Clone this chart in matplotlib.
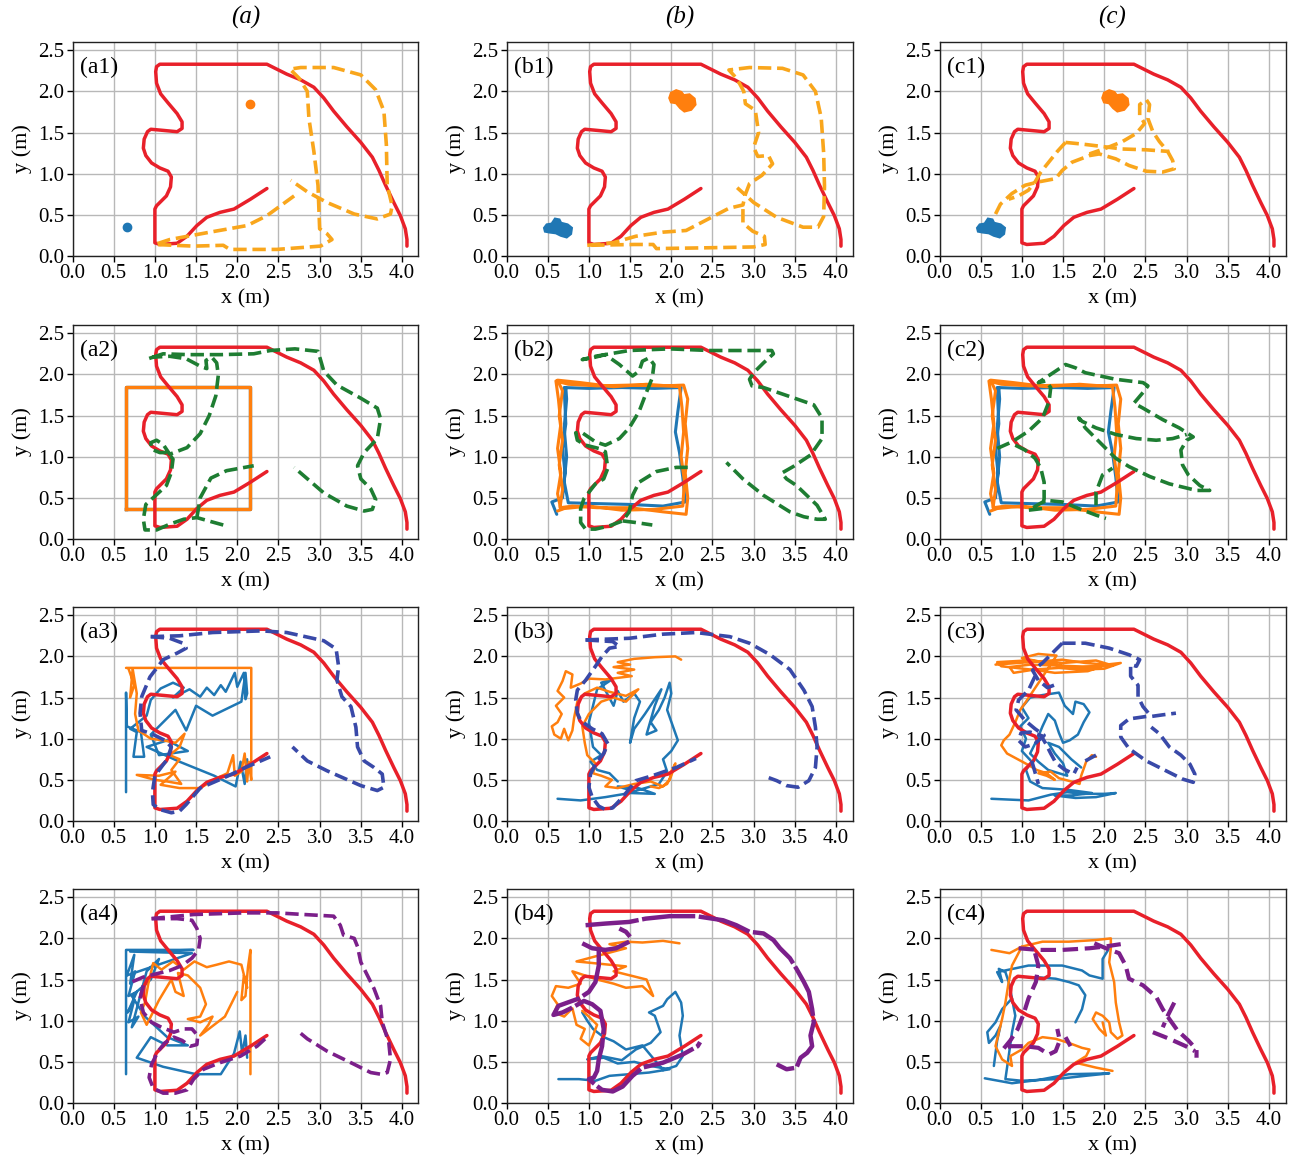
import numpy as np
import matplotlib
matplotlib.use("Agg")
import matplotlib.pyplot as plt

plt.rcParams["font.family"] = ["Liberation Serif", "DejaVu Serif"]
plt.rcParams["mathtext.fontset"] = "stix"

RED = "#e8202a"
BLUE = "#1f77b4"
ORANGE = "#ff7f0e"
GOLD = "#f9a61c"
GREEN = "#1e7d32"
NAVY = "#3949a8"
PURPLE = "#7b1f8a"

# ---------------- trajectories (x, y) in metres ----------------
red_path = [(2.36, 0.82), (2.16, 0.69), (1.96, 0.57), (1.79, 0.53), (1.63, 0.47), (1.51, 0.37),
            (1.39, 0.24), (1.27, 0.155), (1.06, 0.14), (1.0, 0.16), (1.0, 0.57), (1.02, 0.61),
            (1.14, 0.73), (1.19, 0.84), (1.2, 0.96), (1.16, 1.03), (1.06, 1.07), (0.96, 1.13),
            (0.89, 1.22), (0.86, 1.31), (0.87, 1.42), (0.91, 1.51), (0.95, 1.54), (1.06, 1.53),
            (1.27, 1.51), (1.33, 1.55), (1.33, 1.63), (1.27, 1.73), (1.16, 1.86), (1.07, 1.97),
            (1.02, 2.10), (1.01, 2.24), (1.02, 2.30), (1.06, 2.33), (2.36, 2.33), (2.60, 2.21),
            (2.77, 2.14), (2.93, 2.05), (3.05, 1.92), (3.17, 1.76), (3.33, 1.57), (3.50, 1.38),
            (3.64, 1.20), (3.72, 1.04), (3.80, 0.86), (3.90, 0.65), (3.98, 0.49), (4.04, 0.33),
            (4.06, 0.20), (4.06, 0.12)]

blue_start = (0.66, 0.35)
orange_goal = (2.16, 1.85)
blue_blob = [(0.46, 0.34), (0.49, 0.38), (0.55, 0.39), (0.59, 0.45), (0.64, 0.44), (0.66, 0.40),
             (0.74, 0.38), (0.79, 0.34), (0.78, 0.27), (0.73, 0.23), (0.66, 0.25), (0.60, 0.28),
             (0.52, 0.29), (0.47, 0.30)]
orange_blob = [(1.98, 1.92), (2.0, 1.98), (2.06, 2.01), (2.12, 1.99), (2.15, 1.95), (2.22, 1.96),
               (2.28, 1.91), (2.29, 1.84), (2.24, 1.78), (2.16, 1.76), (2.11, 1.80), (2.06, 1.86),
               (2.00, 1.87)]

gold_a1 = [[(2.69, 0.73), (2.36, 0.49), (2.12, 0.37), (1.67, 0.29), (1.18, 0.20), (1.00, 0.14),
            (1.47, 0.12), (1.83, 0.13), (1.91, 0.08), (2.48, 0.08), (3.01, 0.12), (3.15, 0.20),
            (3.09, 0.27), (3.00, 0.33), (2.98, 0.86), (2.93, 1.27), (2.87, 1.67), (2.85, 2.0),
            (2.75, 2.16), (2.64, 2.27), (2.77, 2.29), (3.17, 2.29), (3.50, 2.20), (3.68, 2.02),
            (3.78, 1.76), (3.81, 1.35), (3.82, 0.86), (3.88, 0.61), (3.86, 0.51), (3.70, 0.45),
            (3.42, 0.51), (3.09, 0.65), (2.85, 0.78), (2.65, 0.92)]]
gold_b1 = [[(0.98, 0.13), (1.29, 0.16), (1.57, 0.24), (1.90, 0.29), (2.18, 0.31), (2.45, 0.45),
            (2.70, 0.58), (2.87, 0.62), (2.90, 0.75), (2.95, 0.88), (3.10, 0.98), (3.23, 1.12),
            (3.18, 1.22), (3.05, 1.21), (3.00, 1.32), (3.06, 1.50), (3.02, 1.77), (2.90, 1.85),
            (2.88, 2.0), (2.80, 2.15), (2.70, 2.26), (2.95, 2.29), (3.35, 2.28), (3.60, 2.20),
            (3.75, 2.0), (3.82, 1.68), (3.85, 1.25), (3.86, 0.85), (3.85, 0.48), (3.78, 0.35),
            (3.60, 0.35), (3.28, 0.47), (3.00, 0.65), (2.80, 0.83)],
           [(2.87, 0.57), (2.87, 0.40), (2.99, 0.30), (3.13, 0.24), (3.14, 0.14), (3.0, 0.11),
            (2.45, 0.10), (1.82, 0.09), (1.78, 0.14), (1.55, 0.14), (1.0, 0.13)]]
gold_c1 = [[(0.68, 0.51), (0.74, 0.63), (0.88, 0.76), (1.04, 0.86), (1.20, 0.90), (1.41, 0.94),
            (1.49, 1.04), (1.61, 1.14), (1.82, 1.22), (1.94, 1.24), (2.14, 1.18), (2.30, 1.10),
            (2.51, 1.03), (2.71, 1.02), (2.85, 1.06), (2.83, 1.16), (2.77, 1.27), (2.67, 1.39),
            (2.59, 1.51), (2.53, 1.67), (2.55, 1.84), (2.51, 1.90), (2.43, 1.84), (2.43, 1.71),
            (2.49, 1.61), (2.39, 1.49), (2.22, 1.39), (2.02, 1.31), (1.82, 1.24)],
           [(1.53, 1.38), (1.73, 1.36), (1.98, 1.33), (2.22, 1.30), (2.51, 1.29), (2.79, 1.27)],
           [(1.53, 1.38), (1.43, 1.27), (1.31, 1.12), (1.23, 1.02), (1.16, 0.90), (1.08, 0.80),
            (0.96, 0.73), (0.84, 0.69)]]

square_x = [0.65, 2.15, 2.15, 0.65, 0.65]
square_y = [0.36, 0.36, 1.85, 1.85, 0.36]

orange_sq = [(0.66, 0.36), (0.62, 0.55), (0.66, 0.8), (0.62, 1.1), (0.66, 1.4), (0.63, 1.7),
             (0.60, 1.92), (0.75, 1.88), (1.1, 1.86), (1.5, 1.87), (1.9, 1.86), (2.15, 1.87),
             (2.20, 1.7), (2.17, 1.4), (2.20, 1.1), (2.17, 0.8), (2.20, 0.5), (2.18, 0.30),
             (1.9, 0.33), (1.5, 0.38), (1.1, 0.38), (0.8, 0.40), (0.65, 0.38), (0.68, 0.6),
             (0.64, 0.9), (0.68, 1.2), (0.64, 1.5), (0.68, 1.80), (0.62, 1.93), (0.9, 1.90),
             (1.3, 1.85), (1.7, 1.88), (2.1, 1.85), (2.13, 1.6), (2.15, 1.3), (2.12, 1.0),
             (2.16, 0.7), (2.14, 0.40), (1.8, 0.36), (1.4, 0.35), (1.0, 0.40), (0.7, 0.37),
             (0.62, 0.34)]
blue_sq = [(0.61, 0.30), (0.55, 0.45), (0.68, 0.50), (0.71, 0.8), (0.68, 1.1), (0.72, 1.4),
           (0.70, 1.84), (1.0, 1.83), (1.4, 1.84), (1.8, 1.83), (2.12, 1.84), (2.08, 1.55),
           (2.05, 1.30), (2.10, 1.05), (2.14, 0.75), (2.17, 0.45), (1.9, 0.40), (1.5, 0.42),
           (1.1, 0.43), (0.75, 0.44), (0.70, 0.70), (0.73, 1.0), (0.70, 1.35), (0.73, 1.70),
           (0.72, 1.84)]

green_a2 = [[(1.83, 0.17), (1.65, 0.22), (1.51, 0.26), (1.35, 0.24), (1.18, 0.18), (1.02, 0.11),
             (0.88, 0.11), (0.86, 0.24), (0.89, 0.42), (1.0, 0.52), (1.14, 0.65), (1.2, 0.81),
             (1.22, 0.97), (1.16, 1.05), (1.06, 1.05), (0.96, 1.09), (0.95, 1.17), (1.02, 1.20),
             (1.10, 1.15), (1.18, 1.03), (1.39, 1.11), (1.55, 1.28), (1.66, 1.50), (1.74, 1.74),
             (1.77, 1.99), (1.75, 2.14), (1.69, 2.21), (1.62, 2.17), (1.63, 2.07), (1.55, 2.10),
             (1.38, 2.19), (1.18, 2.22), (0.98, 2.21), (0.92, 2.19), (1.10, 2.25), (1.40, 2.24),
             (1.80, 2.24), (2.20, 2.25), (2.40, 2.29), (2.70, 2.31), (2.98, 2.28), (3.01, 2.18),
             (3.05, 2.04), (3.21, 1.87), (3.50, 1.71), (3.70, 1.59), (3.74, 1.46), (3.70, 1.22),
             (3.54, 1.05), (3.46, 0.89), (3.50, 0.73), (3.62, 0.61), (3.68, 0.48), (3.64, 0.36),
             (3.54, 0.34), (3.33, 0.40), (3.05, 0.56), (2.69, 0.87)],
            [(1.51, 0.26), (1.55, 0.50), (1.68, 0.74), (1.87, 0.83), (2.20, 0.89)]]
green_b2 = [[(2.20, 0.87), (2.06, 0.87), (1.82, 0.82), (1.61, 0.69), (1.53, 0.53), (1.49, 0.33),
             (1.41, 0.22), (1.25, 0.16), (1.08, 0.12), (0.96, 0.12), (0.90, 0.20), (0.90, 0.37),
             (0.94, 0.49), (1.08, 0.67), (1.18, 0.73), (1.23, 0.86), (1.20, 1.06), (1.12, 1.10),
             (0.96, 1.14), (0.86, 1.20), (0.84, 1.29), (0.92, 1.29), (1.08, 1.18), (1.20, 1.14),
             (1.37, 1.22), (1.49, 1.35), (1.61, 1.55), (1.69, 1.76), (1.77, 1.96), (1.79, 2.12),
             (1.73, 2.20), (1.65, 2.16), (1.61, 2.04), (1.53, 1.98), (1.37, 2.12), (1.20, 2.24),
             (1.04, 2.20), (0.92, 2.18), (1.08, 2.22), (1.49, 2.29), (1.98, 2.31), (2.47, 2.29),
             (2.71, 2.29), (3.22, 2.29), (3.24, 2.25), (3.12, 2.14), (3.00, 2.02), (2.95, 1.94),
             (2.98, 1.86), (3.12, 1.84), (3.44, 1.73), (3.73, 1.63), (3.83, 1.47), (3.83, 1.22),
             (3.69, 1.02), (3.48, 0.88), (3.34, 0.80), (3.40, 0.73), (3.52, 0.65), (3.77, 0.41),
             (3.87, 0.24), (3.77, 0.24), (3.61, 0.27), (3.44, 0.33), (3.12, 0.53), (2.87, 0.73),
             (2.67, 0.93)],
            [(1.41, 0.22), (1.57, 0.20), (1.77, 0.17)]]
green_c2 = [[(0.70, 1.10), (0.88, 1.18), (1.08, 1.31), (1.25, 1.47), (1.33, 1.67), (1.35, 1.84),
             (1.29, 1.92), (1.20, 1.90), (1.41, 2.04), (1.53, 2.12), (1.65, 2.08), (1.77, 2.02),
             (2.14, 1.94), (2.47, 1.90), (2.53, 1.86), (2.47, 1.78), (2.36, 1.65), (2.47, 1.59),
             (2.71, 1.45), (2.91, 1.35), (3.08, 1.24), (3.00, 1.20), (2.93, 1.08), (2.95, 0.90),
             (3.02, 0.78), (3.16, 0.65), (3.28, 0.59), (3.12, 0.59), (2.79, 0.67), (2.55, 0.76),
             (2.30, 0.88), (2.14, 0.98), (1.98, 1.14), (1.77, 1.35), (1.69, 1.47), (1.73, 1.43),
             (1.90, 1.35), (2.14, 1.27), (2.39, 1.22), (2.63, 1.20), (2.83, 1.22), (3.00, 1.27)],
            [(0.92, 1.14), (1.04, 1.08), (1.16, 0.98), (1.23, 0.86), (1.27, 0.69), (1.27, 0.49),
             (1.25, 0.37), (1.08, 0.35), (1.29, 0.47), (1.49, 0.45), (1.69, 0.37), (1.90, 0.29),
             (2.02, 0.25)],
            [(1.90, 0.41), (1.90, 0.57), (1.98, 0.78), (2.10, 0.86)]]

orange_a3 = [(0.65, 1.86), (2.17, 1.86), (2.17, 0.50), (2.14, 0.72), (2.12, 0.48), (2.09, 0.82),
             (2.05, 0.60), (1.97, 0.55), (1.95, 0.80), (1.88, 0.58), (1.75, 0.52), (1.55, 0.40),
             (1.30, 0.40), (1.07, 0.44), (1.25, 0.60), (1.05, 0.55), (0.78, 0.56), (1.00, 0.50),
             (1.15, 0.48), (1.32, 0.45), (1.20, 0.62), (1.30, 0.75), (1.18, 0.80), (1.30, 0.90),
             (1.36, 1.06), (1.25, 0.95), (1.10, 0.98), (0.95, 1.00), (0.80, 1.10), (0.76, 1.30),
             (0.78, 1.55), (0.73, 1.85), (0.70, 1.50), (0.75, 1.65), (0.68, 1.85)]
blue_a3 = [(0.65, 0.35), (0.65, 1.56), (0.66, 1.15), (0.83, 1.08), (0.87, 0.78), (0.74, 0.78),
           (0.78, 1.08), (0.70, 1.12), (0.90, 1.28), (0.95, 1.47), (1.07, 1.61), (1.22, 1.68),
           (1.35, 1.62), (1.22, 1.50), (1.42, 1.60), (1.55, 1.51), (1.63, 1.62), (1.72, 1.53),
           (1.80, 1.65), (1.86, 1.57), (1.97, 1.80), (2.0, 1.63), (2.08, 1.80), (2.10, 1.48),
           (2.12, 1.55), (2.10, 1.80), (2.05, 1.45), (1.70, 1.28), (1.50, 1.40), (1.38, 1.10),
           (1.25, 1.35), (1.10, 1.20), (0.95, 1.05), (1.05, 0.80), (1.40, 0.85), (1.15, 0.98),
           (0.90, 0.90), (1.30, 0.72), (1.72, 0.55), (1.98, 0.42), (2.04, 0.72), (2.09, 0.45),
           (2.12, 0.75)]
navy_a3 = [[(0.95, 2.24), (1.18, 2.22), (1.34, 2.16), (1.38, 2.10), (1.27, 2.04), (1.10, 1.96),
            (0.94, 1.75), (0.84, 1.51), (0.82, 1.31), (0.84, 1.10), (0.96, 1.06), (1.12, 0.98),
            (1.2, 0.9), (1.15, 0.75), (1.0, 0.55), (0.97, 0.35), (0.98, 0.2), (1.06, 0.14),
            (1.2, 0.10), (1.3, 0.12), (1.38, 0.2), (1.55, 0.4), (1.85, 0.53), (2.1, 0.65),
            (2.4, 0.78)],
           [(0.95, 2.24), (1.3, 2.25), (1.7, 2.29), (2.3, 2.31), (2.6, 2.29), (3.05, 2.19),
            (3.2, 2.09), (3.23, 1.88), (3.21, 1.71), (3.27, 1.51), (3.38, 1.39), (3.44, 1.14),
            (3.46, 0.90), (3.54, 0.73), (3.66, 0.65), (3.76, 0.57), (3.78, 0.41), (3.70, 0.37),
            (3.5, 0.43), (3.09, 0.61), (2.85, 0.73), (2.67, 0.90)]]

orange_b3 = [(2.12, 1.96), (2.05, 2.0), (1.8, 1.99), (1.55, 1.97), (1.35, 1.93), (1.5, 1.90),
             (1.3, 1.87), (1.55, 1.84), (1.35, 1.80), (1.52, 1.76), (1.2, 1.72), (1.0, 1.73),
             (0.9, 1.67), (0.78, 1.62), (0.80, 1.78), (0.72, 1.82), (0.68, 1.70), (0.62, 1.58),
             (0.70, 1.50), (0.60, 1.40), (0.67, 1.30), (0.62, 1.20), (0.55, 1.15), (0.58, 1.05),
             (0.66, 1.00), (0.70, 1.12), (0.75, 0.98), (0.80, 1.10), (0.82, 1.25), (0.86, 1.45),
             (0.95, 1.55), (1.1, 1.62), (1.25, 1.57), (1.45, 1.52), (1.6, 1.60), (1.45, 1.45),
             (1.3, 1.50), (1.15, 1.45), (1.0, 1.30), (0.92, 1.15), (0.95, 0.95), (0.98, 0.80),
             (1.08, 0.70), (1.05, 0.58), (1.15, 0.55), (1.28, 0.50), (1.20, 0.42), (1.35, 0.40),
             (1.55, 0.45), (1.75, 0.48), (1.9, 0.42), (1.98, 0.50), (2.0, 0.60), (2.05, 0.70),
             (2.0, 0.55), (1.95, 0.45), (1.85, 0.40), (1.75, 0.42)]
blue_b3 = [(0.62, 0.27), (0.9, 0.25), (1.2, 0.29), (1.5, 0.34), (1.8, 0.33), (1.6, 0.40),
           (1.35, 0.42), (1.55, 0.36), (1.85, 0.45), (1.95, 0.60), (1.90, 0.75), (2.00, 0.85),
           (2.08, 0.98), (2.02, 1.15), (1.95, 1.35), (2.0, 1.55), (1.98, 1.68), (1.92, 1.50),
           (1.85, 1.35), (1.75, 1.20), (1.82, 1.10), (1.70, 1.05), (1.80, 1.40), (1.88, 1.60),
           (1.78, 1.45), (1.68, 1.30), (1.55, 1.12), (1.50, 0.95), (1.55, 1.25), (1.62, 1.45),
           (1.55, 1.55), (1.42, 1.45), (1.35, 1.58), (1.30, 1.40), (1.22, 1.55), (1.15, 1.68),
           (1.28, 1.72), (1.1, 1.60), (1.05, 1.40), (1.0, 1.20), (1.05, 0.90), (1.15, 0.80),
           (1.02, 0.72), (1.10, 0.62), (1.25, 0.58), (1.35, 0.48)]
navy_b3 = [[(0.96, 2.20), (1.29, 2.18), (1.37, 2.12), (1.25, 2.10), (1.16, 2.00), (1.08, 1.88),
            (0.96, 1.71), (0.86, 1.59), (0.84, 1.47), (0.86, 1.31), (0.90, 1.22), (1.04, 1.12),
            (1.16, 1.06), (1.23, 0.94), (1.18, 0.82), (1.08, 0.69), (1.02, 0.57), (1.00, 0.41),
            (1.04, 0.29), (1.12, 0.18), (1.20, 0.14), (1.29, 0.16), (1.41, 0.29), (1.57, 0.49),
            (1.77, 0.55), (2.06, 0.65), (2.30, 0.76)],
           [(0.96, 2.20), (1.49, 2.22), (1.90, 2.27), (2.30, 2.29), (2.71, 2.24), (2.95, 2.16),
            (3.20, 2.02), (3.44, 1.84), (3.61, 1.59), (3.71, 1.39), (3.75, 1.14), (3.77, 0.90),
            (3.75, 0.65), (3.67, 0.49), (3.54, 0.41), (3.40, 0.43), (3.28, 0.49), (3.12, 0.55)]]

orange_c3 = [(0.68, 1.90), (0.95, 1.92), (1.22, 1.94), (1.49, 1.96), (1.77, 1.92), (2.02, 1.90),
             (2.20, 1.92), (2.0, 1.85), (1.70, 1.84), (1.45, 1.86), (1.15, 1.84), (0.90, 1.80),
             (0.85, 1.87), (1.10, 1.90), (1.40, 1.89), (1.65, 1.88), (1.95, 1.87), (1.80, 1.82),
             (1.40, 1.80), (1.20, 1.83), (0.75, 1.88), (0.70, 1.93), (1.05, 1.95), (1.50, 1.92),
             (1.90, 1.95), (2.10, 1.89), (1.60, 1.86), (1.0, 1.98), (1.2, 2.03), (1.42, 2.01),
             (1.25, 1.75), (1.15, 1.60), (1.05, 1.45), (0.98, 1.35), (0.92, 1.20), (0.85, 1.05),
             (0.78, 0.98), (0.75, 0.92), (0.82, 0.82), (0.95, 0.75), (1.08, 0.68), (1.18, 0.62),
             (1.30, 0.58), (1.40, 0.50), (1.30, 0.55), (1.20, 0.58), (1.35, 0.60), (1.45, 0.52),
             (1.60, 0.48), (1.70, 0.45), (1.72, 0.55), (1.78, 0.72), (1.85, 0.80), (1.90, 0.78)]
blue_c3 = [(0.63, 0.27), (0.85, 0.26), (1.08, 0.25), (1.35, 0.32), (1.55, 0.35), (1.75, 0.33),
           (2.0, 0.33), (2.14, 0.34), (1.90, 0.29), (1.65, 0.28), (1.40, 0.31), (1.60, 0.31),
           (1.85, 0.34), (1.55, 0.38), (1.25, 0.40), (1.10, 0.48), (1.05, 0.62), (1.12, 0.72),
           (1.00, 0.85), (1.05, 1.00), (0.98, 1.15), (1.08, 1.25), (1.00, 1.38), (1.10, 1.50),
           (1.25, 1.53), (1.45, 1.56), (1.52, 1.40), (1.62, 1.30), (1.65, 1.45), (1.75, 1.42),
           (1.82, 1.32), (1.75, 1.20), (1.68, 1.05), (1.58, 0.98), (1.50, 0.95), (1.45, 1.07),
           (1.40, 1.22), (1.32, 1.30), (1.25, 1.15), (1.18, 0.98), (1.10, 0.82), (1.20, 0.72),
           (1.32, 0.62), (1.45, 0.58), (1.55, 0.55), (1.50, 0.70), (1.40, 0.82), (1.32, 0.95),
           (1.45, 0.90), (1.60, 0.75), (1.72, 0.65)]
navy_c3 = [[(1.49, 2.16), (1.77, 2.16), (2.06, 2.10), (2.30, 2.02), (2.43, 1.96), (2.39, 1.88),
            (2.32, 1.90), (2.32, 1.76), (2.41, 1.65), (2.41, 1.51), (2.47, 1.39), (2.57, 1.27),
            (2.71, 1.29), (2.87, 1.31)],
           [(2.51, 1.27), (2.30, 1.24), (2.20, 1.16), (2.20, 1.02), (2.30, 0.88), (2.51, 0.73),
            (2.71, 0.63), (2.95, 0.51), (3.08, 0.47), (3.10, 0.57), (3.04, 0.69), (2.93, 0.80),
            (2.79, 0.90), (2.67, 1.06), (2.57, 1.14)],
           [(1.49, 2.16), (1.37, 2.04), (1.25, 1.92), (1.13, 1.83), (1.20, 1.71), (1.31, 1.62),
            (1.39, 1.65)],
           [(1.16, 1.76), (1.08, 1.59), (0.96, 1.47), (0.93, 1.35), (1.04, 1.22), (1.16, 1.12),
            (1.27, 1.04), (1.16, 0.94), (1.04, 0.90), (0.96, 0.98), (0.99, 1.07), (1.10, 1.08),
            (1.23, 1.04), (1.29, 0.94), (1.35, 0.82), (1.41, 0.71), (1.51, 0.63), (1.63, 0.57),
            (1.67, 0.65)],
           [(1.12, 0.73), (1.16, 0.59), (1.20, 0.45)],
           [(1.77, 0.73), (1.90, 0.80)]]

blue_a4 = [(0.65, 0.35), (0.65, 1.86), (1.47, 1.86), (0.70, 1.84), (1.45, 1.82), (0.66, 1.55),
           (0.75, 1.80), (0.70, 1.45), (0.76, 1.60), (0.68, 1.30), (0.78, 1.35), (0.67, 1.10),
           (0.75, 1.25), (0.68, 0.98), (0.80, 1.05), (0.72, 0.92), (0.90, 1.60), (1.05, 1.75),
           (0.95, 1.50), (0.72, 1.30), (0.88, 1.05), (1.15, 0.80), (1.40, 0.70), (1.15, 0.70),
           (0.95, 0.80), (0.78, 0.55), (1.10, 0.44), (1.50, 0.35), (1.80, 0.35), (1.96, 0.60),
           (2.03, 0.87), (2.06, 0.60), (2.10, 0.82), (2.12, 0.55)]
orange_a4 = [(2.16, 0.35), (2.16, 1.86), (2.13, 1.65), (2.10, 1.30), (2.05, 1.25), (2.08, 1.55),
             (2.12, 1.40), (2.05, 1.68), (1.90, 1.72), (1.75, 1.68), (1.63, 1.65), (1.48, 1.72),
             (1.35, 1.62), (1.22, 1.72), (1.08, 1.62), (0.98, 1.70), (0.92, 1.45), (0.88, 1.22),
             (0.83, 1.10), (0.90, 0.95), (0.95, 1.05), (1.05, 1.25), (1.20, 1.50), (1.25, 1.35),
             (1.35, 1.30), (1.28, 1.58), (1.40, 1.55), (1.55, 1.40), (1.62, 1.20), (1.55, 1.05),
             (1.40, 1.02), (1.55, 0.98), (1.70, 1.05), (1.65, 0.95), (1.55, 0.82), (1.85, 1.05),
             (1.95, 1.25), (2.0, 1.35)]
purple_a4 = [[(0.96, 2.24), (1.47, 2.29), (2.08, 2.31), (2.48, 2.31), (2.81, 2.29), (3.17, 2.27),
              (3.25, 2.16), (3.29, 2.04), (3.42, 2.0), (3.46, 1.90), (3.50, 1.71), (3.58, 1.55),
              (3.66, 1.39), (3.74, 1.18), (3.76, 0.98), (3.84, 0.73), (3.86, 0.53), (3.82, 0.37),
              (3.74, 0.35), (3.62, 0.37), (3.42, 0.47), (3.09, 0.63), (2.85, 0.78), (2.73, 0.88)],
             [(0.96, 2.24), (1.27, 2.24), (1.45, 2.22), (1.51, 2.12), (1.55, 2.0), (1.53, 1.86),
              (1.45, 1.76), (1.33, 1.67), (1.18, 1.61), (1.02, 1.57), (0.86, 1.53), (0.72, 1.47)],
             [(0.86, 1.43), (0.82, 1.27), (0.86, 1.10), (0.96, 0.98), (1.08, 0.92), (1.23, 0.86),
              (1.35, 0.90), (1.45, 0.90), (1.52, 0.82), (1.51, 0.71), (1.43, 0.69), (1.33, 0.76),
              (1.23, 0.80), (1.12, 0.73), (1.04, 0.63), (0.96, 0.47), (0.93, 0.31), (0.98, 0.18),
              (1.10, 0.12), (1.25, 0.12), (1.39, 0.16), (1.47, 0.29), (1.59, 0.41), (1.79, 0.49),
              (2.04, 0.57), (2.24, 0.69), (2.36, 0.80)]]

orange_b4 = [(2.10, 1.94), (1.90, 1.97), (1.65, 1.95), (1.45, 1.96), (1.25, 1.93), (1.45, 1.88),
             (1.15, 1.80), (0.85, 1.72), (1.05, 1.70), (1.25, 1.68), (1.45, 1.66), (1.30, 1.60),
             (1.50, 1.55), (1.70, 1.50), (1.78, 1.30), (1.65, 1.42), (1.45, 1.40), (1.30, 1.45),
             (1.10, 1.50), (0.95, 1.55), (0.80, 1.60), (0.90, 1.45), (0.75, 1.40), (0.60, 1.42),
             (0.55, 1.30), (0.62, 1.20), (0.58, 1.10), (0.70, 1.05), (0.80, 1.15), (0.85, 0.95),
             (0.95, 0.90), (0.90, 0.78), (1.00, 0.70), (1.05, 0.82), (1.10, 0.95), (1.00, 1.05),
             (0.92, 1.12)]
blue_b4 = [(0.63, 0.29), (0.88, 0.29), (1.08, 0.27), (1.25, 0.33), (1.49, 0.35), (1.73, 0.37),
           (1.98, 0.41), (1.75, 0.45), (1.55, 0.50), (1.35, 0.48), (1.18, 0.55), (0.98, 0.53),
           (1.15, 0.57), (1.40, 0.52), (1.57, 0.65), (1.75, 0.73), (1.87, 0.86), (1.80, 1.06),
           (1.73, 1.10), (1.90, 1.18), (1.95, 1.26), (2.05, 1.35), (2.12, 1.22), (2.14, 1.06),
           (2.10, 0.82), (2.14, 0.57), (2.06, 0.45), (1.90, 0.40), (1.65, 0.70), (1.45, 0.65),
           (1.30, 0.75), (1.18, 0.80), (1.05, 0.90), (0.98, 1.00), (0.92, 1.10)]
purple_b4 = [[(0.96, 2.16), (1.20, 2.18), (1.49, 2.20), (1.69, 2.24), (1.98, 2.27), (2.30, 2.27),
              (2.63, 2.22), (2.79, 2.16), (2.95, 2.08), (3.12, 2.06), (3.24, 1.98), (3.32, 1.88),
              (3.44, 1.76), (3.52, 1.63), (3.61, 1.47), (3.67, 1.35), (3.71, 1.14), (3.73, 0.98),
              (3.69, 0.82), (3.71, 0.69), (3.65, 0.61), (3.57, 0.55), (3.52, 0.43), (3.40, 0.41),
              (3.28, 0.47)],
             [(1.37, 2.12), (1.45, 2.08), (1.50, 2.02)],
             [(0.92, 1.94), (1.04, 1.88), (1.20, 1.86), (1.33, 1.88), (1.49, 1.96)],
             [(1.12, 1.88), (1.12, 1.67), (1.08, 1.47), (1.00, 1.35), (0.88, 1.27), (0.74, 1.22),
              (0.63, 1.18), (0.57, 1.07), (0.68, 1.10), (0.80, 1.16), (0.94, 1.24), (1.04, 1.20),
              (1.14, 1.12), (1.18, 0.90), (1.16, 0.69), (1.12, 0.53), (1.10, 0.39), (1.06, 0.31),
              (1.00, 0.29), (1.08, 0.22), (1.16, 0.16), (1.29, 0.14), (1.41, 0.20), (1.53, 0.33),
              (1.65, 0.43), (1.90, 0.49), (2.14, 0.59), (2.32, 0.69), (2.35, 0.74)]]

orange_c4 = [[(0.63, 1.86), (0.85, 1.82), (1.0, 1.90), (1.25, 1.96), (1.57, 1.96), (1.90, 1.98),
              (2.08, 2.0), (2.08, 1.88), (2.06, 1.71), (2.12, 1.47), (2.14, 1.22), (2.18, 0.98),
              (2.22, 0.82), (2.16, 0.78), (2.08, 0.86), (2.06, 0.98), (1.98, 1.06), (1.90, 1.10),
              (1.86, 1.02), (1.94, 0.90), (2.02, 0.82), (1.98, 0.98)],
             [(1.0, 1.90), (0.88, 1.67), (0.84, 1.47), (0.80, 1.22), (0.76, 1.02), (0.72, 0.86),
              (0.68, 0.69), (0.76, 0.53), (0.88, 0.45), (0.86, 0.57), (1.0, 0.65), (1.08, 0.73),
              (1.25, 0.80), (1.41, 0.78), (1.57, 0.73), (1.73, 0.67), (1.82, 0.65), (1.78, 0.57),
              (1.65, 0.49), (1.90, 0.43), (2.10, 0.39)]]
blue_c4 = [[(0.55, 0.30), (0.88, 0.24), (1.20, 0.28), (1.57, 0.35), (2.06, 0.36), (1.77, 0.33),
            (1.41, 0.29), (1.0, 0.27), (0.80, 0.29), (0.84, 0.57), (0.88, 0.86), (0.92, 1.06),
            (0.88, 1.27), (0.84, 1.47), (0.80, 1.59), (0.72, 1.63), (0.76, 1.47), (0.70, 1.59),
            (1.08, 1.67), (1.49, 1.67), (1.73, 1.61), (1.82, 1.55), (1.98, 1.51), (1.98, 1.75),
            (2.06, 1.88)],
           [(1.16, 1.53), (1.41, 1.51), (1.57, 1.47), (1.69, 1.43), (1.77, 1.31), (1.73, 1.14),
            (1.65, 0.98)],
           [(0.88, 1.27), (0.76, 1.14), (0.68, 0.98), (0.58, 0.86), (0.60, 0.73), (0.68, 0.82),
            (0.74, 0.94), (0.70, 0.76), (0.66, 0.45)]]
purple_c4 = [[(0.96, 1.88), (1.20, 1.86), (1.49, 1.86), (1.82, 1.88), (2.0, 1.90), (2.20, 1.93)],
             [(1.88, 1.94), (2.02, 1.88), (2.18, 1.82), (2.26, 1.67), (2.30, 1.51), (2.47, 1.43),
              (2.63, 1.29), (2.71, 1.14), (2.79, 1.02), (2.89, 0.88), (3.02, 0.76), (3.12, 0.65),
              (3.12, 0.55)],
             [(2.59, 0.86), (2.79, 0.78), (2.99, 0.69), (3.10, 0.63)],
             [(2.85, 1.22), (2.77, 1.06), (2.71, 0.92)],
             [(1.16, 1.82), (1.20, 1.67), (1.17, 1.47), (1.08, 1.27), (1.02, 1.08), (0.95, 0.90),
              (0.86, 0.76), (0.77, 0.65), (0.86, 0.69), (1.04, 0.69), (1.20, 0.67), (1.33, 0.59),
              (1.41, 0.63), (1.46, 0.76), (1.43, 0.90)],
             [(1.59, 0.69), (1.53, 0.80)]]

col_titles = ["(a)", "(b)", "(c)"]
x_ticks = [0.0, 0.5, 1.0, 1.5, 2.0, 2.5, 3.0, 3.5, 4.0]
y_ticks = [0.0, 0.5, 1.0, 1.5, 2.0, 2.5]

# ---------------- figure layout ----------------
W, H = 1291, 1159
fig = plt.figure(figsize=(W / 100, H / 100), dpi=100)
lefts = [72.5, 506.5, 939.5]
tops = [42, 325, 607, 889]
AW, AH = 346, 214


def line(ax, pts, color, lw=2.2, ls="-", z=3, **kw):
    xs, ys = zip(*pts)
    ax.plot(xs, ys, color=color, lw=lw, ls=ls, zorder=z, solid_capstyle="round",
            solid_joinstyle="round", **kw)


def segs(ax, groups, color, lw=2.6, ls="--", z=4, **kw):
    for g in groups:
        line(ax, g, color, lw=lw, ls=ls, z=z, **kw)


def blob(ax, pts, color):
    xs, ys = zip(*pts)
    ax.fill(xs, ys, color=color, lw=2, ec=color, zorder=3)


axes = {}
for r in range(4):
    for c in range(3):
        l = lefts[c] / W
        b = 1 - (tops[r] + AH) / H
        ax = fig.add_axes([l, b, AW / W, AH / H])
        ax.set_xlim(0, 4.2)
        ax.set_ylim(0, 2.6)
        ax.set_xticks(x_ticks)
        ax.set_yticks(y_ticks)
        ax.set_xticklabels([f"{v:.1f}" for v in x_ticks])
        ax.set_yticklabels([f"{v:.1f}" for v in y_ticks])
        ax.tick_params(labelsize=15, length=4, width=1, pad=2)
        ax.grid(True, color="#b8b8b8", lw=1.0, zorder=0)
        ax.set_axisbelow(True)
        for s in ax.spines.values():
            s.set_linewidth(1.0)
            s.set_color("#222222")
        ax.set_xlabel("x (m)", fontsize=16, labelpad=4)
        ax.set_ylabel("y (m)", fontsize=16, labelpad=4)
        ax.text(0.022, 0.88, f"({'abc'[c]}{r + 1})", transform=ax.transAxes,
                fontsize=17, ha="left", va="center", zorder=6)
        axes[(r, c)] = ax
        line(ax, red_path, RED, lw=2.5, z=3)

for c, t in enumerate(col_titles):
    fig.text((lefts[c] + AW / 2) / W, 1 - 17 / H, t, ha="center", va="center",
             fontsize=18, style="italic")

# row 1: start/goal and single trajectory
ax = axes[(0, 0)]
ax.plot(*blue_start, "o", color=BLUE, ms=6, zorder=4)
ax.plot(*orange_goal, "o", color=ORANGE, ms=6, zorder=4)
segs(ax, gold_a1, GOLD)
for c, g in ((1, gold_b1), (2, gold_c1)):
    ax = axes[(0, c)]
    blob(ax, blue_blob, BLUE)
    blob(ax, orange_blob, ORANGE)
    segs(ax, g, GOLD)

# row 2: square patrol
ax = axes[(1, 0)]
ax.plot(square_x, square_y, color=BLUE, lw=2.4, zorder=2)
ax.plot(square_x, square_y, color=ORANGE, lw=2.4, zorder=2)
segs(ax, green_a2, GREEN)
for c, g in ((1, green_b2), (2, green_c2)):
    ax = axes[(1, c)]
    line(ax, blue_sq, BLUE, lw=2.2, z=2)
    line(ax, orange_sq, ORANGE, lw=2.2, z=2)
    segs(ax, g, GREEN)

# row 3
SCR = 1.8
ax = axes[(2, 0)]
line(ax, blue_a3, BLUE, lw=SCR, z=2)
line(ax, orange_a3, ORANGE, lw=SCR, z=2)
segs(ax, navy_a3, NAVY)
ax = axes[(2, 1)]
line(ax, blue_b3, BLUE, lw=SCR, z=2)
line(ax, orange_b3, ORANGE, lw=SCR, z=2)
segs(ax, navy_b3, NAVY)
ax = axes[(2, 2)]
line(ax, blue_c3, BLUE, lw=SCR, z=2)
line(ax, orange_c3, ORANGE, lw=SCR, z=2)
segs(ax, navy_c3, NAVY)

# row 4
ax = axes[(3, 0)]
line(ax, blue_a4, BLUE, lw=SCR, z=2)
line(ax, orange_a4, ORANGE, lw=SCR, z=2)
segs(ax, purple_a4, PURPLE)
ax = axes[(3, 1)]
line(ax, blue_b4, BLUE, lw=SCR, z=2)
line(ax, orange_b4, ORANGE, lw=SCR, z=2)
segs(ax, purple_b4, PURPLE, lw=3.2, ls=(0, (12, 0.8)))
ax = axes[(3, 2)]
for g in blue_c4:
    line(ax, g, BLUE, lw=SCR, z=2)
for g in orange_c4:
    line(ax, g, ORANGE, lw=SCR, z=2)
segs(ax, purple_c4, PURPLE, lw=3.0)

fig.savefig("out.png", dpi=100)
